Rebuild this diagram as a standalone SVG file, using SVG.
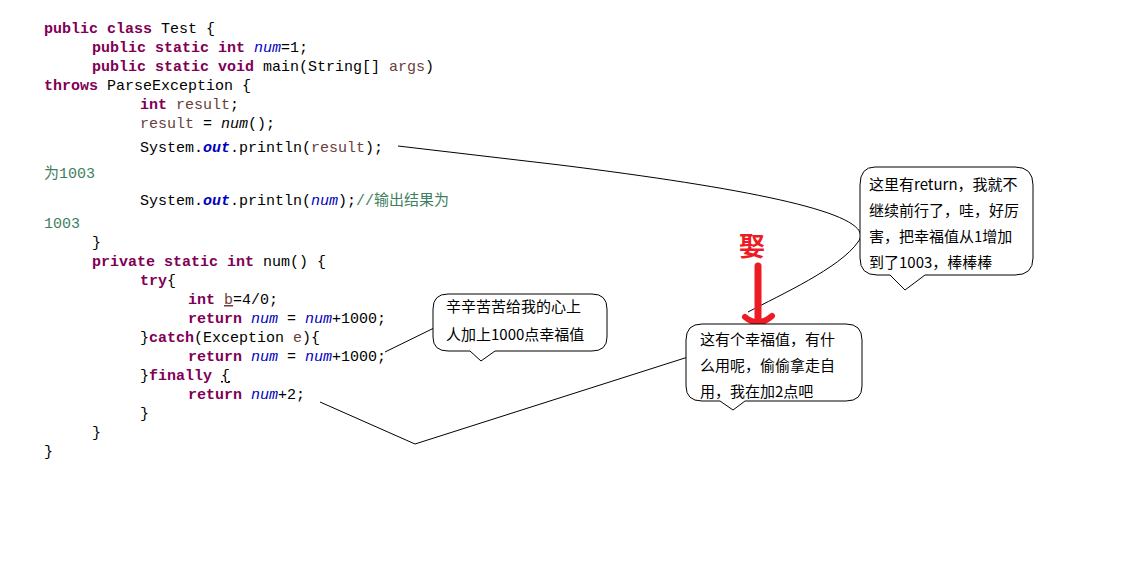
<svg xmlns="http://www.w3.org/2000/svg" width="1139" height="575" viewBox="0 0 1139 575">
<style>
.c{font-family:"Liberation Mono",monospace;font-size:15px;fill:#000}
.k{font-weight:bold;fill:#7f0055}
.n{font-style:italic;fill:#0000c0}
.o{font-style:italic;font-weight:bold;fill:#0000c0}
.v{fill:#6a3e3e}
.g{fill:#3f7f5f;font-family:"Liberation Mono","Noto Sans CJK SC",monospace}
.b{font-family:"Noto Sans CJK SC",sans-serif;font-size:15px;fill:#000}
.bub{fill:#fff;stroke:#000;stroke-width:1}
.ln{fill:none;stroke:#000;stroke-width:1}
</style>
<rect width="1139" height="575" fill="#fff"/>
<g id="code" class="c">
<text x="44" y="33"><tspan class="k">public class</tspan> Test {</text>
<text x="92" y="52"><tspan class="k">public static int</tspan> <tspan class="n">num</tspan>=1;</text>
<text x="92" y="71"><tspan class="k">public static void</tspan> main(String[] <tspan class="v">args</tspan>)</text>
<text x="44" y="90"><tspan class="k">throws</tspan> ParseException {</text>
<text x="140" y="109"><tspan class="k">int</tspan> <tspan class="v">result</tspan>;</text>
<text x="140" y="128"><tspan class="v">result</tspan> = <tspan font-style="italic">num</tspan>();</text>
<text x="140" y="152">System.<tspan class="o">out</tspan>.println(<tspan class="v">result</tspan>);</text>
<text x="44" y="178" class="g">为1003</text>
<text x="140" y="205">System.<tspan class="o">out</tspan>.println(<tspan class="n">num</tspan>);<tspan class="g">//输出结果为</tspan></text>
<text x="44" y="228" class="g">1003</text>
<text x="92" y="247">}</text>
<text x="92" y="266"><tspan class="k">private static int</tspan> num() {</text>
<text x="140" y="285"><tspan class="k">try</tspan>{</text>
<text x="188" y="304"><tspan class="k">int</tspan> <tspan class="v" text-decoration="underline">b</tspan>=4/0;</text>
<text x="188" y="323"><tspan class="k">return</tspan> <tspan class="n">num</tspan> = <tspan class="n">num</tspan>+1000;</text>
<text x="140" y="342">}<tspan class="k">catch</tspan>(Exception <tspan class="v">e</tspan>){</text>
<text x="188" y="361"><tspan class="k">return</tspan> <tspan class="n">num</tspan> = <tspan class="n">num</tspan>+1000;</text>
<text x="140" y="380">}<tspan class="k">finally</tspan> <tspan text-decoration="underline">{</tspan></text>
<text x="188" y="399"><tspan class="k">return</tspan> <tspan class="n">num</tspan>+2;</text>
<text x="140" y="418">}</text>
<text x="92" y="437">}</text>
<text x="44" y="456">}</text>
</g>
<g id="connectors">
<path class="ln" d="M398,146 L560,165 C760,190 880,215 858,242 C840,268 780,295 748,312"/>
<path class="ln" d="M385,352 L434,328"/>
<path class="ln" d="M320,402 L415,444 L688,357"/>
<path d="M758,266 L758,320" stroke="#ed1c24" stroke-width="7" stroke-linecap="round" fill="none"/>
<path d="M745,317 Q758,328 772,316" stroke="#ed1c24" stroke-width="6" stroke-linecap="round" fill="none"/>
<text x="752" y="256" text-anchor="middle" font-family="Noto Sans CJK SC,sans-serif" font-size="26" font-weight="bold" fill="#ed1c24">娶</text>
</g>
<g id="bubble1">
<path class="bub" d="M875,167 L1015,167 Q1033,167 1033,185 L1033,258 Q1033,275 1015,275 L925,275 L905,290 L890,275 L877,275 Q860,275 860,258 L860,185 Q860,167 875,167 Z"/>
<text class="b" x="869" y="190">这里有return，我就不</text>
<text class="b" x="869" y="216">继续前行了，哇，好厉</text>
<text class="b" x="869" y="242">害，把幸福值从1增加</text>
<text class="b" x="869" y="268">到了1003，棒棒棒</text>
</g>
<g id="bubble2">
<path class="bub" d="M448,294 L592,294 Q607,294 607,309 L607,337 Q607,351 592,351 L495,351 L481,361 L470,351 L448,351 Q433,351 433,337 L433,309 Q433,294 448,294 Z"/>
<text class="b" x="446" y="312" font-size="16">辛辛苦苦给我的心上</text>
<text class="b" x="446" y="340" font-size="16">人加上1000点幸福值</text>
</g>
<g id="bubble3">
<path class="bub" d="M702,324 L846,324 Q862,324 862,340 L862,386 Q862,401 846,401 L745,401 L733,410 L720,401 L702,401 Q686,401 686,386 L686,340 Q686,324 702,324 Z"/>
<text class="b" x="700" y="345">这有个幸福值，有什</text>
<text class="b" x="700" y="371">么用呢，偷偷拿走自</text>
<text class="b" x="700" y="397">用，我在加2点吧</text>
</g>
</svg>
